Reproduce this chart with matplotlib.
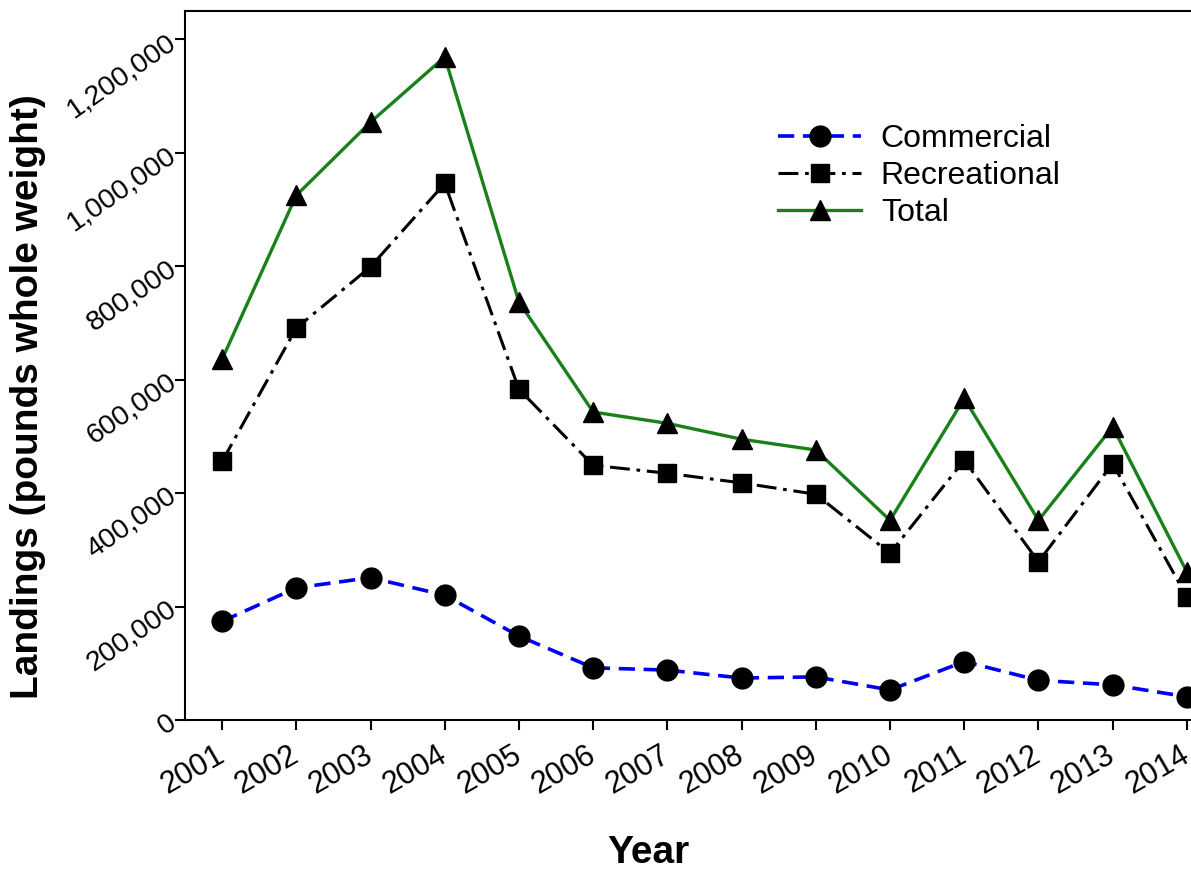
import numpy as np
import matplotlib
matplotlib.use("Agg")
import matplotlib.pyplot as plt

plt.rcParams['font.family'] = ['Liberation Sans', 'DejaVu Sans']

# landings by year (pounds whole weight)
years = [2001, 2002, 2003, 2004, 2005, 2006, 2007, 2008, 2009, 2010, 2011, 2012, 2013, 2014]
commercial = [174000, 233000, 251000, 220000, 148000, 92000, 88000, 74000, 76000, 53000, 103000, 70000, 62000, 41000]
recreational = [456000, 691000, 799000, 946000, 583000, 449000, 435000, 418000, 398000, 294000, 458000, 279000, 452000, 217000]
total = [636000, 925000, 1054000, 1169000, 737000, 543000, 523000, 495000, 476000, 352000, 567000, 352000, 517000, 261000]

y_ticks = [0, 200000, 400000, 600000, 800000, 1000000, 1200000]
y_ticklabels = ['0', '200,000', '400,000', '600,000', '800,000', '1,000,000', '1,200,000']

W, H = 1191, 869
fig = plt.figure(figsize=(W / 100, H / 100), dpi=100)
# axes runs past the right edge of the figure, like the source
ax = fig.add_axes([185 / W, (H - 720) / H, (1224 - 185) / W, (720 - 11) / H])

ax.plot(years, commercial, color='#0000ee', lw=2.6, dashes=(4.5, 2.4),
        marker='o', ms=15, mfc='black', mec='black', label='Commercial', zorder=3)
ax.plot(years, recreational, color='black', lw=2.2, dashes=(6.5, 2.2, 1.2, 2.2),
        marker='s', ms=13, mfc='black', mec='black', label='Recreational', zorder=3)
ax.plot(years, total, color='#1a801a', lw=2.4, ls='-',
        marker='^', ms=15, mfc='black', mec='black', label='Total', zorder=3)

ax.set_xlim(2000.5, 2014.5)
ax.set_ylim(0, 1250000)

ax.set_xticks(years)
ax.set_xticklabels([str(y) for y in years], rotation=30, ha='right', va='center',
                   rotation_mode='anchor', fontsize=22)
ax.set_yticks(y_ticks)
ax.set_yticklabels(y_ticklabels, rotation=35, ha='right', va='center',
                   rotation_mode='anchor', fontsize=20.5)
ax.tick_params(axis='x', direction='out', length=7, width=1.5, pad=17)
ax.tick_params(axis='y', direction='out', length=7, width=1.5, pad=1)

for s in ax.spines.values():
    s.set_linewidth(1.5)

fig.text(28 / W, 1 - 397 / H, 'Landings (pounds whole weight)', rotation=90,
         ha='center', va='center', fontsize=28, fontweight='bold')
fig.text(648 / W, 1 - 853 / H, 'Year', ha='center', va='center',
         fontsize=28, fontweight='bold')

ax.legend(loc='center left', bbox_to_anchor=(778 / W, 1 - 176 / H),
          bbox_transform=fig.transFigure, frameon=False, fontsize=23,
          handlelength=2.6, handletextpad=0.62, labelspacing=0.22,
          borderpad=0, borderaxespad=0)

fig.savefig('out.png', dpi=100)
